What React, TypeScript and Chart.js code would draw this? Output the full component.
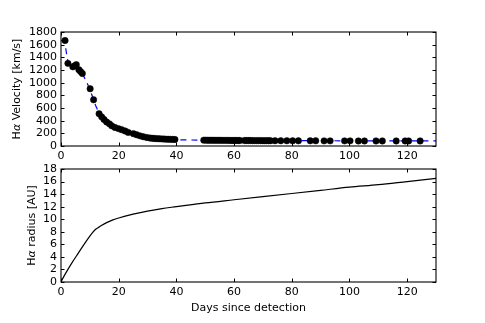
import React, { useEffect, useRef } from "react";
import { Chart, registerables } from "chart.js";

Chart.register(...registerables);

// ---- data ----
const obsDays = [
  1.4, 2.4, 4.1, 4.7, 5.3, 6.2, 6.8, 7.4,
  10.1, 11.3,
  13.2, 14.1, 14.9, 15.8, 16.8, 17.6, 18.7, 19.9, 21.0, 22.2, 23.3,
  25.1, 26.2, 27.4, 28.5, 29.7,
  30.8, 31.6, 32.4, 33.2, 34.0, 34.8, 35.6, 36.4, 37.2, 38.0, 38.8, 39.5,
  49.5, 50.2, 50.9, 51.6, 52.3, 53.0, 53.7, 54.4, 55.1, 55.8, 56.5, 57.2, 57.9, 58.6, 59.3, 60.0, 60.7, 61.4, 62.0,
  63.6, 64.3, 65.0, 65.7, 66.4, 67.1, 67.8, 68.5, 69.2, 69.9, 70.6, 71.3, 72.0, 72.6,
  74.2, 76.2, 78.3, 80.3, 82.3, 86.4, 88.3, 91.2, 93.3, 98.3, 100.2, 103.1, 105.2, 109.2, 111.4, 116.2, 119.3, 120.5, 124.5,
];
const obsVelocity = [
  1665, 1305, 1250, 1265, 1285, 1205, 1175, 1145,
  905, 730,
  510, 460, 420, 380, 350, 318, 292, 275, 258, 238, 215,
  195, 178, 160, 147, 135,
  126, 122, 119, 116, 114, 112, 110, 108, 106, 105, 104, 103,
  92, 92, 91, 91, 91, 90, 90, 90, 90, 89, 89, 89, 89, 88, 88, 88, 88, 87, 87,
  86, 86, 86, 86, 85, 85, 85, 85, 85, 84, 84, 84, 84, 84,
  83, 83, 83, 82, 82, 82, 82, 81, 81, 81, 81, 80, 80, 80, 80, 80, 80, 80, 80,
];

const modelDays = [0, 1.2, 1.6, 2, 2.5, 3, 4, 5, 6, 7, 8, 9, 10, 11, 12, 13, 14, 15, 16, 18, 20, 22, 25, 28, 30, 33, 36, 40, 50, 60, 80, 100, 130];
const modelVelocity = [1665, 1660, 1560, 1430, 1310, 1280, 1260, 1245, 1215, 1170, 1090, 1000, 890, 770, 640, 540, 465, 410, 365, 300, 265, 235, 195, 155, 135, 118, 107, 97, 92, 88, 84, 82, 80];

const radiusDays = [0, 1, 2, 4, 6, 8, 10, 11, 12, 13, 14, 16, 18, 20, 25, 30, 35, 40, 50, 60, 70, 80, 90, 100, 110, 120, 130];
const radiusAU = [0, 0.9, 1.7, 3.2, 4.6, 6.0, 7.3, 7.9, 8.4, 8.7, 9.0, 9.5, 9.9, 10.2, 10.8, 11.3, 11.7, 12.0, 12.6, 13.1, 13.6, 14.1, 14.6, 15.1, 15.5, 16.0, 16.5];

const dayTicks = [0, 20, 40, 60, 80, 100, 120];
const velocityTicks = [0, 200, 400, 600, 800, 1000, 1200, 1400, 1600, 1800];
const radiusTicks = [0, 2, 4, 6, 8, 10, 12, 14, 16, 18];

const FONT = "'DejaVu Sans', sans-serif";
const FS = 11;

function pairs(xs: number[], ys: number[]) {
  return xs.map((x, i) => ({ x, y: ys[i] }));
}

function framePlugin(id: string, yTitleRest: string, yTitleX: number, xTitle: string | null) {
  return {
    id,
    afterDraw(chart: any) {
      const ctx = chart.ctx as CanvasRenderingContext2D;
      const { left, right, top, bottom } = chart.chartArea;
      const xs = chart.scales.x;
      const ys = chart.scales.y;
      const tl = 3.5;
      ctx.save();
      ctx.strokeStyle = "#000";
      ctx.lineWidth = 1;
      ctx.beginPath();
      for (const t of xs.ticks) {
        const px = Math.round(xs.getPixelForValue(t.value)) + 0.5;
        ctx.moveTo(px, bottom);
        ctx.lineTo(px, bottom - tl);
        ctx.moveTo(px, top);
        ctx.lineTo(px, top + tl);
      }
      for (const t of ys.ticks) {
        const py = Math.round(ys.getPixelForValue(t.value)) + 0.5;
        ctx.moveTo(left, py);
        ctx.lineTo(left + tl, py);
        ctx.moveTo(right, py);
        ctx.lineTo(right - tl, py);
      }
      ctx.stroke();
      ctx.lineWidth = 1.1;
      ctx.strokeRect(left, top, right - left, bottom - top);

      // y title with italic alpha
      const normal = `${FS}px ${FONT}`;
      const italic = `italic ${FS}px ${FONT}`;
      ctx.fillStyle = "#000";
      ctx.textBaseline = "middle";
      ctx.textAlign = "left";
      ctx.font = normal;
      const wH = ctx.measureText("H").width;
      const wRest = ctx.measureText(yTitleRest).width;
      ctx.font = italic;
      const wA = ctx.measureText("\u03b1").width;
      const total = wH + wA + wRest;
      const cy = (top + bottom) / 2;
      ctx.translate(yTitleX, cy);
      ctx.rotate(-Math.PI / 2);
      let cx = -total / 2;
      ctx.font = normal;
      ctx.fillText("H", cx, 0);
      cx += wH;
      ctx.font = italic;
      ctx.fillText("\u03b1", cx, 0);
      cx += wA;
      ctx.font = normal;
      ctx.fillText(yTitleRest, cx, 0);
      ctx.setTransform(1, 0, 0, 1, 0, 0);

      if (xTitle) {
        ctx.font = normal;
        ctx.textAlign = "center";
        ctx.textBaseline = "middle";
        ctx.fillText(xTitle, (left + right) / 2, 308);
      }
      ctx.restore();
    },
  };
}

function xScale() {
  return {
    type: "linear" as const,
    min: 0,
    max: 130,
    afterBuildTicks: (s: any) => {
      s.ticks = dayTicks.map((v) => ({ value: v }));
    },
    afterFit: (s: any) => {
      s.height = 20;
    },
    grid: { display: false, drawTicks: false },
    border: { display: false },
    ticks: {
      padding: 4,
      maxRotation: 0,
      autoSkip: false,
      color: "#000",
      font: { family: FONT, size: FS },
      callback: (v: any) => String(v),
    },
  };
}

function yScale(min: number, max: number, tickVals: number[]) {
  return {
    type: "linear" as const,
    min,
    max,
    afterBuildTicks: (s: any) => {
      s.ticks = tickVals.map((v) => ({ value: v }));
    },
    afterFit: (s: any) => {
      s.width = 61;
    },
    grid: { display: false, drawTicks: false },
    border: { display: false },
    ticks: {
      padding: 4,
      autoSkip: false,
      color: "#000",
      font: { family: FONT, size: FS },
      callback: (v: any) => String(v),
    },
  };
}

export default function App() {
  const topRef = useRef<HTMLCanvasElement>(null);
  const botRef = useRef<HTMLCanvasElement>(null);

  useEffect(() => {
    const top = new Chart(topRef.current!, {
      type: "scatter",
      data: {
        datasets: [
          {
            data: pairs(obsDays, obsVelocity),
            showLine: false,
            pointRadius: 3.2,
            pointBackgroundColor: "#000",
            pointBorderColor: "#000",
            pointBorderWidth: 0.5,
            order: 1,
          },
          {
            data: pairs(modelDays, modelVelocity),
            showLine: true,
            borderColor: "#0000ff",
            borderWidth: 1.2,
            borderDash: [6, 5],
            pointRadius: 0,
            tension: 0,
            order: 2,
          },
        ],
      },
      options: {
        responsive: false,
        animation: false,
        devicePixelRatio: 1,
        layout: { autoPadding: false, padding: { left: 0, right: 49, top: 32, bottom: 157 } },
        plugins: { legend: { display: false }, tooltip: { enabled: false } },
        scales: { x: xScale(), y: yScale(0, 1800, velocityTicks) },
      },
      plugins: [framePlugin("frameTop", " Velocity [km/s]", 17.5, null)],
    } as any);

    const bot = new Chart(botRef.current!, {
      type: "scatter",
      data: {
        datasets: [
          {
            data: pairs(radiusDays, radiusAU),
            showLine: true,
            borderColor: "#000",
            borderWidth: 1.2,
            pointRadius: 0,
            tension: 0.3,
            cubicInterpolationMode: "monotone",
          },
        ],
      },
      options: {
        responsive: false,
        animation: false,
        devicePixelRatio: 1,
        layout: { autoPadding: false, padding: { left: 0, right: 49, top: 169, bottom: 21 } },
        plugins: { legend: { display: false }, tooltip: { enabled: false } },
        scales: { x: xScale(), y: yScale(0, 18, radiusTicks) },
      },
      plugins: [framePlugin("frameBot", " radius [AU]", 31.7, "Days since detection")],
    } as any);

    return () => {
      top.destroy();
      bot.destroy();
    };
  }, []);

  const cs: React.CSSProperties = { position: "absolute", left: 0, top: 0, width: 485, height: 323 };
  return (
    <div style={{ position: "fixed", left: 0, top: 0, width: 485, height: 323, background: "#fff" }}>
      <canvas ref={topRef} width={485} height={323} style={cs} />
      <canvas ref={botRef} width={485} height={323} style={cs} />
    </div>
  );
}
